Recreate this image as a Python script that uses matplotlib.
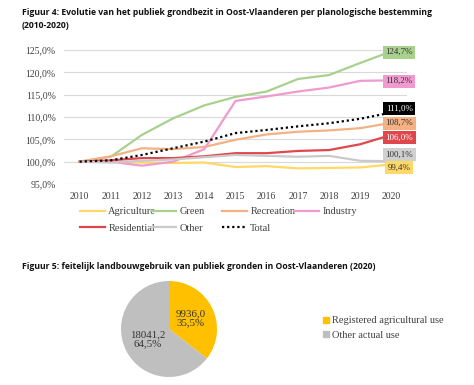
import matplotlib
matplotlib.use("Agg")
import matplotlib.pyplot as plt
from matplotlib.patches import Patch
import numpy as np

# --- data ---
years = [2010, 2011, 2012, 2013, 2014, 2015, 2016, 2017, 2018, 2019, 2020]
agriculture = [100.0, 100.0, 99.8, 99.7, 99.8, 98.8, 99.0, 98.5, 98.6, 98.7, 99.4]
green = [100.0, 101.1, 106.0, 109.7, 112.6, 114.5, 115.7, 118.5, 119.4, 122.1, 124.7]
recreation = [100.0, 101.2, 103.0, 102.8, 103.3, 104.9, 106.1, 106.7, 107.0, 107.5, 108.7]
industry = [100.0, 100.0, 99.1, 100.0, 102.8, 113.6, 114.6, 115.7, 116.6, 118.1, 118.2]
residential = [100.0, 100.3, 100.8, 100.8, 101.2, 101.9, 101.9, 102.4, 102.6, 103.9, 106.0]
other = [100.0, 99.8, 100.2, 100.5, 101.0, 101.5, 101.3, 101.1, 101.3, 100.2, 100.1]
total = [100.0, 100.3, 101.5, 103.0, 104.5, 106.4, 107.1, 107.9, 108.6, 109.6, 111.0]

yticks = [95, 100, 105, 110, 115, 120, 125]

pie_labels = ["Registered agricultural use", "Other actual use"]
pie_values = [9936.0, 18041.2]

title4 = "Figuur 4: Evolutie van het publiek grondbezit in Oost-Vlaanderen per planologische bestemming\n(2010-2020)"
title5 = "Figuur 5: feitelijk landbouwgebruik van publiek gronden in Oost-Vlaanderen (2020)"

def fmt(v):
    return f"{v:.1f}".replace(".", ",") + "%"

W, H = 474, 385
fig = plt.figure(figsize=(W / 100, H / 100), dpi=100)
fig.patch.set_facecolor("white")

serif = "Liberation Serif"
tfont = "Open Sans"
txtcol = "#404040"

fig.text(22 / W, 1 - 8 / H, title4, fontsize=6.2, fontweight="bold",
         family=tfont, va="top", ha="left", color="#111111", linespacing=1.5)

# line chart
ax = fig.add_axes([64 / W, 1 - 184 / H, (407 - 64) / W, 134 / H])
series = [
    ("Agriculture", agriculture, "#ffd966"),
    ("Green", green, "#a9d18e"),
    ("Recreation", recreation, "#f4b183"),
    ("Industry", industry, "#f09ad0"),
    ("Residential", residential, "#e0474c"),
    ("Other", other, "#c9c9c9"),
]
for name, vals, col in series:
    ax.plot(years, vals, color=col, lw=1.6, label=name)
ax.plot(years, total, color="black", lw=1.6, ls=(0, (1, 1.3)), label="Total")

ax.set_xlim(2009.5, 2020.5)
ax.set_ylim(95, 125)
ax.set_yticks(yticks)
ax.set_yticklabels([fmt(v) for v in yticks])
ax.set_xticks(years)
for s in ax.spines.values():
    s.set_visible(False)
ax.grid(axis="y", color="#d9d9d9", lw=0.8)
ax.set_axisbelow(True)
ax.tick_params(length=0, labelsize=7, colors=txtcol, pad=6)
for lab in ax.get_xticklabels() + ax.get_yticklabels():
    lab.set_family(serif)

# end-value boxes (y nudged to avoid overlap)
end_boxes = [
    (green[-1], -0.2, "#a9d18e", "#333333"),
    (industry[-1], -0.2, "#f09ad0", "#333333"),
    (total[-1], 0.8, "black", "white"),
    (recreation[-1], -0.1, "#f4b183", "#333333"),
    (residential[-1], -0.6, "#e0474c", "white"),
    (other[-1], 1.4, "#d0d0d0", "#333333"),
    (agriculture[-1], -0.8, "#ffd966", "#333333"),
]
for v, dy, fc, tc in end_boxes:
    ax.text(2020.25, v + dy, fmt(v), ha="center", va="center", fontsize=6.5,
            family=serif, color=tc, clip_on=False,
            bbox=dict(boxstyle="square,pad=0.28", fc=fc, ec="none"))

# legend: four fixed-width columns like the original
handles, labels = ax.get_legend_handles_labels()
columns = [[0, 4], [1, 5], [2, 6], [3]]
col_x = [76, 147, 218, 290]
for cx, idx in zip(col_x, columns):
    leg = fig.legend([handles[i] for i in idx], [labels[i] for i in idx],
                     loc="upper left", bbox_to_anchor=(cx / W, 1 - 203 / H),
                     frameon=False, handlelength=2.4, handletextpad=0.3,
                     labelspacing=0.65, borderaxespad=0,
                     prop={"family": serif, "size": 7.5})
    for t in leg.get_texts():
        t.set_color(txtcol)

fig.text(22 / W, 1 - 262 / H, title5, fontsize=6.2, fontweight="bold",
         family=tfont, va="top", ha="left", color="#111111")

# pie
pax = fig.add_axes([121 / W, 1 - 377 / H, 96 / W, 96 / H])
pax.pie(pie_values, colors=["#ffc000", "#bfbfbf"], startangle=90,
        counterclock=False, radius=1)
tot = sum(pie_values)
label_r = [0.5, 0.5]
ang = 90.0
for i, v in enumerate(pie_values):
    span = 360 * v / tot
    mid = np.deg2rad(ang - span / 2)
    ang -= span
    txt = f"{v:.1f}".replace(".", ",") + "\n" + f"{100 * v / tot:.1f}".replace(".", ",") + "%"
    pax.text(label_r[i] * np.cos(mid), label_r[i] * np.sin(mid), txt,
             ha="center", va="center", fontsize=7.8, family=serif, color="#333333",
             linespacing=1.0)
pax.set_xlim(-1, 1)
pax.set_ylim(-1, 1)
pax.set_aspect("equal")

pleg = fig.legend([Patch(color="#ffc000"), Patch(color="#bfbfbf")], pie_labels,
                  loc="center left", bbox_to_anchor=(314 / W, 1 - 328 / H),
                  frameon=False, handlelength=0.5, handleheight=0.5,
                  handletextpad=0.3, labelspacing=0.5,
                  prop={"family": serif, "size": 7.5})
for t in pleg.get_texts():
    t.set_color(txtcol)

fig.savefig("out.png", dpi=100)
